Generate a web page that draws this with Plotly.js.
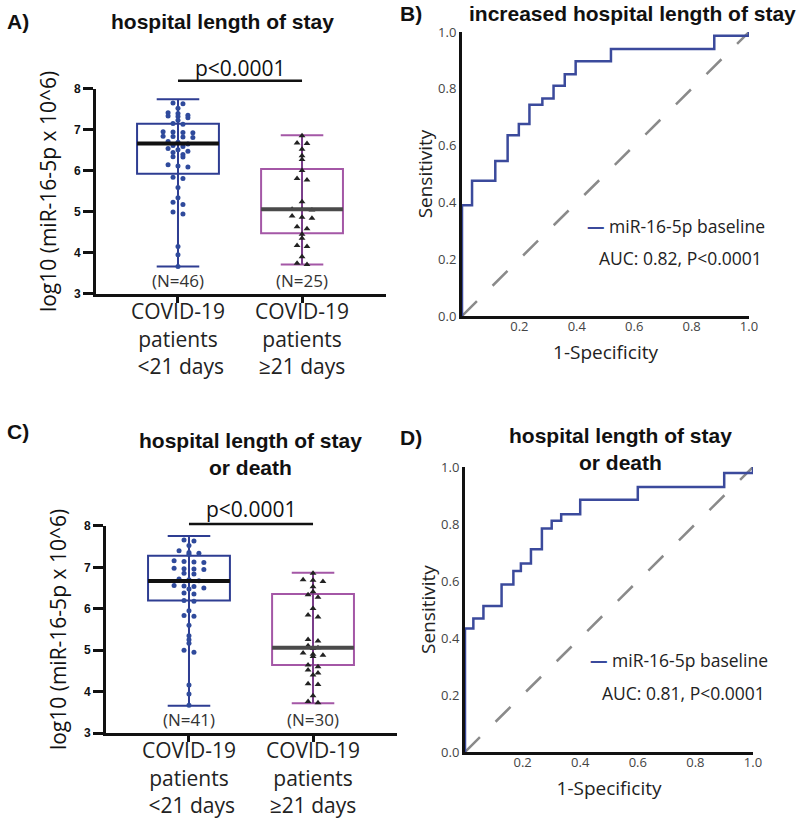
<!DOCTYPE html>
<html>
<head>
<meta charset="utf-8">
<script src="https://cdn.plot.ly/plotly-3.0.1.min.js"></script>
<style>
html,body{margin:0;padding:0;background:#fff}
#chart{width:800px;height:821px}
</style>
</head>
<body>
<div id="chart"></div>
<script>
// categories
const groupLabels = ['COVID-19<br>patients<br>\u00a0&lt;21 days', 'COVID-19<br>patients<br>≥21 days'];

// A) hospital length of stay -- log10(miR-16-5p x 10^6)
const aShort = [7.66, 7.64, 7.53, 7.42, 7.40, 7.36, 7.34, 7.33, 7.30, 7.24, 7.16, 7.14, 6.96, 6.95, 6.94, 6.93,
  6.85, 6.84, 6.83, 6.82, 6.72, 6.70, 6.66, 6.62, 6.60, 6.55, 6.52, 6.48, 6.45, 6.40, 6.35, 6.34, 6.15, 6.12,
  6.10, 5.85, 5.82, 5.60, 5.35, 5.24, 5.18, 5.00, 4.95, 4.16, 3.96, 3.67];
const aLong = [6.86, 6.68, 6.67, 6.53, 6.37, 6.28, 6.01, 5.82, 5.78, 5.25, 5.07, 5.06, 5.05, 4.90, 4.87, 4.85,
  4.64, 4.59, 4.46, 4.36, 4.18, 4.16, 3.91, 3.75, 3.72];
const aQ1 = [5.93, 4.48];
const aMed = [6.67, 5.07];
const aQ3 = [7.15, 6.05];
const aMin = [3.67, 3.72];
const aMax = [7.75, 6.87];

// C) hospital length of stay or death
const cShort = [7.66, 7.64, 7.53, 7.40, 7.36, 7.34, 7.32, 7.16, 7.14, 7.13, 7.12, 6.98, 6.97, 6.96, 6.95, 6.86,
  6.84, 6.72, 6.70, 6.68, 6.56, 6.55, 6.54, 6.50, 6.48, 6.38, 6.36, 6.20, 6.18, 5.95, 5.84, 5.82, 5.60, 5.35,
  5.25, 5.17, 5.00, 4.95, 4.16, 3.94, 3.67];
const cLong = [6.86, 6.70, 6.69, 6.66, 6.53, 6.41, 6.34, 6.28, 6.01, 5.85, 5.80, 5.26, 5.22, 5.11, 5.06, 5.04,
  4.93, 4.90, 4.88, 4.85, 4.64, 4.60, 4.52, 4.45, 4.40, 4.19, 4.17, 3.90, 3.76, 3.73];
const cQ1 = [6.20, 4.64];
const cMed = [6.67, 5.06];
const cQ3 = [7.28, 6.36];
const cMin = [3.66, 3.72];
const cMax = [7.76, 6.87];

const yTicks = [3, 4, 5, 6, 7, 8];

// B) ROC increased hospital length of stay
const rocBx = [0, 0, 0.035, 0.116, 0.159, 0.198, 0.235, 0.28, 0.319, 0.358, 0.396, 0.519, 0.879, 1.0, 1.0];
const rocBy = [0, 0.39, 0.476, 0.546, 0.636, 0.676, 0.744, 0.766, 0.811, 0.851, 0.897, 0.940, 0.987, 0.987, 1.0];
// D) ROC hospital length of stay or death
const rocDx = [0, 0, 0.029, 0.064, 0.127, 0.168, 0.194, 0.229, 0.267, 0.301, 0.334, 0.40, 0.60, 0.90, 1.0, 1.0];
const rocDy = [0, 0.433, 0.468, 0.512, 0.588, 0.635, 0.661, 0.711, 0.784, 0.811, 0.834, 0.885, 0.930, 0.979, 0.979, 1.0];
const diagX = [0, 1];
const diagY = [0, 1];
const rocXTicks = [0.2, 0.4, 0.6, 0.8, 1.0];
const rocYTicks = [0, 0.2, 0.4, 0.6, 0.8, 1.0];

const BLUE = '#2e3d92', PURPLE = '#a457a6', PURPLE_DK = '#7a3d8a', DOT = '#2f4a9c', ROC = '#3b4a9c';
const FONT = '"Open Sans", "DejaVu Sans", sans-serif';
const BOLD = '"Liberation Sans", Arial, sans-serif';

// simple beeswarm: values close together share a row, spread symmetrically
function swarm(vals, center, step, gap){
  const sorted = vals.slice().sort((a,b)=>b-a);
  const xs=[], ys=[];
  let row=[];
  const flush=()=>{
    row.forEach((v,k)=>{ xs.push(center + (k-(row.length-1)/2)*step); ys.push(v); });
    row=[];
  };
  for(const v of sorted){
    if(row.length && row[0]-v > gap) flush();
    row.push(v);
  }
  flush();
  return {x:xs, y:ys};
}

function paperY(dom, rng, v){ return dom[0] + (v-rng[0])/(rng[1]-rng[0])*(dom[1]-dom[0]); }

const traces=[], shapes=[], annotations=[];

function boxPanel(p){
  const boxCol=[BLUE, PURPLE], lineCol=[BLUE, PURPLE_DK], medCol=['#111','#4a4a4a'];
  [p.short, p.long].forEach((vals,i)=>{
    traces.push({type:'box', x:[i], q1:[p.q1[i]], median:[p.med[i]], q3:[p.q3[i]],
      lowerfence:[p.lo[i]], upperfence:[p.hi[i]], width:0.66, whiskerwidth:0.52,
      line:{color:boxCol[i], width:2}, fillcolor:'rgba(0,0,0,0)',
      xaxis:p.xa, yaxis:p.ya, hoverinfo:'skip', showlegend:false});
    traces.push({type:'scatter', mode:'lines', x:[i,i], y:[p.lo[i], p.hi[i]],
      line:{color:lineCol[i], width:2}, xaxis:p.xa, yaxis:p.ya, hoverinfo:'skip', showlegend:false});
    const s = swarm(vals, i, 0.08, 0.07);
    traces.push({type:'scatter', mode:'markers', x:s.x, y:s.y,
      marker: i===0 ? {symbol:'circle', size:5, color:DOT} : {symbol:'triangle-up', size:6, color:'#222'},
      xaxis:p.xa, yaxis:p.ya, showlegend:false, hoverinfo:'y'});
    traces.push({type:'scatter', mode:'lines', x:[i-0.33, i+0.33], y:[p.med[i], p.med[i]],
      line:{color:medCol[i], width:4}, xaxis:p.xa, yaxis:p.ya, hoverinfo:'skip', showlegend:false});
    annotations.push({xref:p.xa, yref:p.ya, x:i, y:3.32, text:`(N=${vals.length})`, showarrow:false,
      font:{family:FONT, size:17, color:'#333'}});
  });
  const ly = paperY(p.ydom, [3,8], p.sigLine);
  shapes.push({type:'line', xref:p.xa, yref:'paper', x0:0, x1:1, y0:ly, y1:ly, line:{color:'#111', width:2.5}});
  annotations.push({xref:p.xa, yref:'paper', x:0.5, y:paperY(p.ydom, [3,8], p.sigText), text:'p&lt;0.0001',
    showarrow:false, xanchor:'center', yanchor:'middle', font:{family:FONT, size:21, color:'#111'}});
}

boxPanel({xa:'x', ya:'y', short:aShort, long:aLong, q1:aQ1, med:aMed, q3:aQ3, lo:aMin, hi:aMax,
  ydom:[0.6419, 0.8916], sigLine:8.2, sigText:8.52});
boxPanel({xa:'x2', ya:'y2', short:cShort, long:cLong, q1:cQ1, med:cMed, q3:cQ3, lo:cMin, hi:cMax,
  ydom:[0.10718, 0.35932], sigLine:8.05, sigText:8.4});

function rocPanel(xa, ya, fx, fy){
  traces.push({type:'scatter', mode:'lines', x:diagX, y:diagY, line:{color:'#8a8a8a', width:2.5, dash:'21px,22px'},
    xaxis:xa, yaxis:ya, hoverinfo:'skip', showlegend:false});
  traces.push({type:'scatter', mode:'lines', x:fx, y:fy, line:{color:ROC, width:2.5, shape:'hv'},
    name:'miR-16-5p baseline', xaxis:xa, yaxis:ya, showlegend:false});
}
rocPanel('x3', 'y3', rocBx, rocBy);
rocPanel('x4', 'y4', rocDx, rocDy);

function boxXAxis(dom, rng, anchor){
  return {domain:dom, range:rng, anchor:anchor, tickvals:[0,1], ticktext:groupLabels,
    ticks:'outside', ticklen:6, tickwidth:3, tickcolor:'#111', showline:true, linewidth:3, linecolor:'#111',
    showgrid:false, zeroline:false, ticklabelstandoff:-9, tickfont:{family:FONT, size:21, color:'#222'}};
}
function boxYAxis(dom, anchor){
  return {domain:dom, range:[3,8], anchor:anchor, tickvals:yTicks, ticks:'outside', ticklen:10, tickwidth:3,
    tickcolor:'#111', showline:true, linewidth:3, linecolor:'#111', showgrid:false, zeroline:false,
    tickfont:{family:BOLD, size:12, color:'#111', weight:'bold'},
    title:{text:'log10 (miR-16-5p x 10^6)', font:{family:FONT, size:21, color:'#111'}, standoff:12}};
}
function rocXAxis(dom, anchor){
  return {domain:dom, range:[0,1], anchor:anchor, tickvals:rocXTicks, tickformat:'.1f', ticks:'',
    showline:true, linewidth:3, linecolor:'#111', showgrid:false, zeroline:false, ticklabelstandoff:-4,
    tickfont:{family:FONT, size:13, color:'#444'},
    title:{text:'1-Specificity', font:{family:FONT, size:19, color:'#222'}, standoff:13}};
}
function rocYAxis(dom, anchor){
  return {domain:dom, range:[0,1], anchor:anchor, tickvals:rocYTicks, tickformat:'.1f', ticks:'',
    showline:true, linewidth:3, linecolor:'#111', showgrid:false, zeroline:false,
    tickfont:{family:FONT, size:13, color:'#444'},
    title:{text:'Sensitivity', font:{family:FONT, size:19, color:'#222'}, standoff:1}};
}

const lab = (x, y, text, xanchor) => ({xref:'paper', yref:'paper', x:x, y:y, text:text, showarrow:false,
  xanchor:xanchor||'center', yanchor:'middle', font:{family:BOLD, size:21, color:'#111'}});

annotations.push(lab(0.00625, 0.97442, '<b>A)</b>', 'left'));
annotations.push(lab(0.2775, 0.97442, '<b>hospital length of stay</b>'));
annotations.push(lab(0.497, 0.98295, '<b>B)</b>', 'left'));
annotations.push(lab(0.79, 0.98295, '<b>increased hospital length of stay</b>'));
annotations.push(lab(0.00625, 0.47503, '<b>C)</b>', 'left'));
annotations.push(lab(0.3125, 0.44641, '<b>hospital length of stay<br>or death</b>'));
annotations.push(lab(0.497, 0.46772, '<b>D)</b>', 'left'));
annotations.push(lab(0.775, 0.45250, '<b>hospital length of stay<br>or death</b>'));

const legendText = `<span style="color:${ROC}"><b>—</b></span> miR-16-5p baseline`;
const note = (x, y, text) => ({xref:'paper', yref:'paper', x:x, y:y, text:text, showarrow:false,
  xanchor:'left', yanchor:'middle', font:{family:FONT, size:17.5, color:'#222'}});
annotations.push(note(0.73125, 0.72473, legendText));
annotations.push(note(0.74625, 0.68575, 'AUC: 0.82, P&lt;0.0001'));
annotations.push(note(0.735, 0.19610, legendText));
annotations.push(note(0.75, 0.15591, 'AUC: 0.81, P&lt;0.0001'));

const layout = {
  width:800, height:821, margin:{l:0, r:0, t:0, b:0},
  paper_bgcolor:'#fff', plot_bgcolor:'rgba(0,0,0,0)',
  boxmode:'overlay', showlegend:false,
  font:{family:FONT, color:'#222'},
  xaxis: boxXAxis([0.12, 0.4825], [-0.661, 1.677], 'y'),
  yaxis: boxYAxis([0.6419, 0.8916], 'x'),
  xaxis2: boxXAxis([0.1325, 0.49625], [-0.669, 1.677], 'y2'),
  yaxis2: boxYAxis([0.10718, 0.35932], 'x2'),
  xaxis3: rocXAxis([0.5775, 0.93625], 'y3'),
  yaxis3: rocYAxis([0.61511, 0.96102], 'x3'),
  xaxis4: rocXAxis([0.58125, 0.94125], 'y4'),
  yaxis4: rocYAxis([0.08404, 0.43118], 'x4'),
  shapes: shapes,
  annotations: annotations
};

Plotly.newPlot('chart', traces, layout, {displayModeBar:false, staticPlot:true});
</script>
</body>
</html>
